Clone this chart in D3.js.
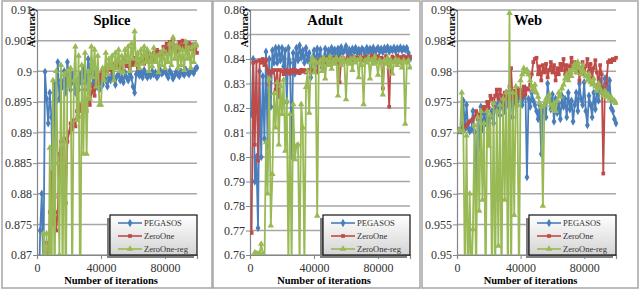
<!DOCTYPE html>
<html>
<head>
<meta charset="utf-8">
<script src="https://cdn.jsdelivr.net/npm/d3@7/dist/d3.min.js"></script>
<style>
body { margin: 0; background: #fff; }
svg { display: block; }
text { font-family: "Liberation Serif", "Times New Roman", serif; }
</style>
</head>
<body>
<svg id="chart" width="640" height="290"></svg>
<script>
// データ
var seriesNames = ["PEGASOS", "ZeroOne", "ZeroOne-reg"];
var panelTitles = ["Splice", "Adult", "Web"];
var xTicks = [0, 40000, 80000];
var iterStep = 1000; // 1点ごとの反復回数

var spliceTicks = [0.87, 0.875, 0.88, 0.885, 0.89, 0.895, 0.9, 0.905, 0.91];
var adultTicks = [0.76, 0.77, 0.78, 0.79, 0.8, 0.81, 0.82, 0.83, 0.84, 0.85, 0.86];
var webTicks = [0.95, 0.955, 0.96, 0.965, 0.97, 0.975, 0.98, 0.985, 0.99];

var splicePegasos = [0.862,0.874,0.880,0.866,0.8999,0.8955,0.8915,0.8965,0.8925,0.8785,
  0.898,0.895,0.9015,0.8955,0.8985,0.8975,0.900,0.8965,0.9015,0.8985,
  0.897,0.8995,0.898,0.8965,0.8985,0.897,0.8995,0.898,0.9005,0.897,
  0.8985,0.902,0.8995,0.9012,0.898,0.8997,0.8975,0.8985,0.897,0.8992,
  0.8978,0.899,0.8985,0.8975,0.899,0.8985,0.8995,0.8988,0.8978,0.8992,
  0.8995,0.8985,0.899,0.8982,0.8998,0.899,0.8985,0.8996,0.899,0.8975,
  0.8965,0.8995,0.9,0.8993,0.8998,0.899,0.9002,0.8995,0.899,0.8997,
  0.8992,0.9,0.8995,0.8998,0.899,0.8994,0.9002,0.8996,0.8999,0.9002,
  0.8995,0.899,0.9001,0.8996,0.8988,0.8993,0.8999,0.8995,0.8992,0.9,
  0.8997,0.8994,0.9003,0.8998,0.8995,0.9002,0.9,0.8997,0.9004,0.9006];
var spliceZeroOne = [0.84,0.84,0.84,0.84,0.86,0.872,0.866,0.877,0.8835,0.875,
  0.8795,0.874,0.877,0.8865,0.8885,0.8855,0.889,0.8785,0.8885,0.89,
  0.8915,0.8905,0.892,0.891,0.8935,0.8925,0.8945,0.8935,0.895,0.894,
  0.8935,0.8955,0.8945,0.8965,0.8975,0.896,0.8985,0.8975,0.8995,0.8985,
  0.9,0.8992,0.9005,0.8998,0.901,0.9003,0.9,0.9012,0.9005,0.9018,
  0.9008,0.9015,0.9002,0.9012,0.902,0.9008,0.9015,0.9005,0.9018,0.901,
  0.9022,0.9012,0.9005,0.902,0.9015,0.9025,0.9012,0.902,0.903,0.9015,
  0.9025,0.9018,0.903,0.902,0.9035,0.9025,0.9032,0.9022,0.904,0.903,
  0.9045,0.9028,0.9048,0.9035,0.9053,0.9038,0.9042,0.9032,0.9048,0.9035,
  0.905,0.9038,0.9045,0.9032,0.9046,0.9036,0.9044,0.9033,0.9038,0.903];
var spliceZeroOneReg = [0.85,0.85,0.85,0.8735,0.866,0.8735,0.855,0.8875,0.86,0.8985,
  0.862,0.9,0.885,0.87,0.901,0.865,0.8995,0.86,0.9,0.8975,
  0.9005,0.866,0.8985,0.904,0.892,0.9025,0.86,0.901,0.8865,0.903,
  0.8865,0.9,0.8955,0.904,0.899,0.9035,0.8975,0.9025,0.8945,0.8945,
  0.9005,0.8985,0.903,0.8995,0.902,0.9005,0.9025,0.8985,0.903,0.9005,
  0.9035,0.9,0.9025,0.8998,0.9035,0.9015,0.904,0.9,0.9045,0.902,
  0.9065,0.901,0.903,0.9005,0.9035,0.9012,0.904,0.9015,0.9035,0.9,
  0.9028,0.9008,0.9038,0.9015,0.9025,0.8998,0.903,0.901,0.9035,0.9005,
  0.9028,0.9015,0.9045,0.901,0.9055,0.902,0.9042,0.9005,0.9038,0.901,
  0.9035,0.9002,0.9048,0.902,0.9038,0.9005,0.904,0.9015,0.9045,0.9042];

var adultPegasos = [0.8175,0.84,0.79,0.8,0.771,0.835,0.80,0.833,0.8075,0.843,
  0.8045,0.84,0.8205,0.8435,0.8385,0.8445,0.8385,0.8445,0.8395,0.8445,
  0.837,0.8435,0.8225,0.8445,0.8385,0.8005,0.8425,0.834,0.8445,0.8395,
  0.8455,0.8405,0.8435,0.8385,0.8445,0.8395,0.8425,0.8325,0.8405,0.8435,
  0.8375,0.8442,0.8395,0.8438,0.8365,0.8405,0.8442,0.8385,0.8435,0.842,
  0.8445,0.8425,0.8438,0.8415,0.8442,0.842,0.8448,0.8425,0.8435,0.8452,
  0.8425,0.8438,0.8418,0.8442,0.843,0.8445,0.8425,0.8438,0.842,0.8442,
  0.8435,0.8415,0.8445,0.8428,0.8442,0.8432,0.8446,0.8425,0.8438,0.8445,
  0.843,0.8442,0.8428,0.8445,0.8435,0.8448,0.843,0.8442,0.8435,0.8446,
  0.8432,0.8444,0.8438,0.8447,0.8435,0.8444,0.8438,0.8445,0.8425,0.840];
var adultZeroOne = [0.769,0.8385,0.805,0.839,0.7985,0.8395,0.8385,0.84,0.8375,0.8395,
  0.8355,0.8295,0.835,0.8345,0.8355,0.8275,0.8355,0.8245,0.8355,0.835,
  0.8338,0.8355,0.8345,0.8352,0.834,0.8355,0.8348,0.8356,0.8345,0.8352,
  0.8342,0.8356,0.8348,0.8355,0.8345,0.8352,0.8356,0.8345,0.8355,0.8348,
  0.8352,0.8345,0.8395,0.8385,0.84,0.8365,0.839,0.8405,0.8385,0.84,
  0.839,0.8405,0.8395,0.8385,0.8405,0.8305,0.8398,0.8405,0.8388,0.8398,
  0.8408,0.839,0.8402,0.8395,0.8408,0.8392,0.8405,0.8398,0.8412,0.8395,
  0.8405,0.839,0.841,0.8398,0.8405,0.8415,0.8395,0.8408,0.84,0.8412,
  0.8398,0.8405,0.828,0.8402,0.8412,0.8395,0.8205,0.8398,0.841,0.8395,
  0.8405,0.8415,0.8398,0.8408,0.84,0.8412,0.8395,0.8408,0.8402,0.841];
var adultZeroOneReg = [0.755,0.755,0.761,0.7605,0.7605,0.7605,0.7645,0.7605,0.755,0.806,
  0.785,0.832,0.772,0.793,0.826,0.812,0.8305,0.805,0.829,0.8175,
  0.8315,0.8025,0.823,0.755,0.8175,0.755,0.8215,0.799,0.8045,0.805,
  0.755,0.8215,0.812,0.755,0.8285,0.835,0.818,0.8385,0.8405,0.8345,
  0.839,0.776,0.8385,0.8395,0.835,0.8405,0.832,0.8395,0.8375,0.841,
  0.836,0.8395,0.838,0.8405,0.825,0.8395,0.8375,0.8405,0.8385,0.8235,
  0.8395,0.838,0.84,0.8355,0.8405,0.8385,0.8395,0.8325,0.8405,0.8375,
  0.8215,0.8395,0.8385,0.8405,0.832,0.8395,0.838,0.841,0.8385,0.8335,
  0.8395,0.8385,0.8255,0.8395,0.838,0.8405,0.8365,0.8395,0.834,0.8385,
  0.84,0.8375,0.8395,0.8385,0.8365,0.8395,0.8135,0.8385,0.8395,0.8365];

var webPegasos = [0.9703,0.9703,0.9703,0.9752,0.9705,0.9745,0.9708,0.9702,0.9705,0.9735,
  0.9701,0.9608,0.9725,0.9675,0.9742,0.9705,0.973,0.9715,0.9735,0.9705,
  0.9725,0.9735,0.9715,0.9745,0.9735,0.9748,0.9728,0.9752,0.974,0.9735,
  0.9765,0.9745,0.9755,0.9765,0.9725,0.9755,0.9765,0.9745,0.9758,0.9768,
  0.9745,0.9758,0.9772,0.9627,0.9755,0.9742,0.9765,0.9752,0.9745,0.9735,
  0.9722,0.9745,0.9665,0.9735,0.9745,0.9725,0.978,0.9755,0.9738,0.9762,
  0.9718,0.9755,0.9732,0.9748,0.9722,0.976,0.9742,0.9755,0.9725,0.9765,
  0.9738,0.9752,0.9718,0.9745,0.9765,0.9735,0.978,0.9755,0.9745,0.9782,
  0.9735,0.9712,0.976,0.9745,0.9725,0.9765,0.9738,0.9775,0.9752,0.9785,
  0.9765,0.9772,0.9788,0.979,0.9762,0.9785,0.974,0.9735,0.9722,0.9715];
var webZeroOne = [0.9705,0.9705,0.9705,0.9705,0.971,0.9712,0.9715,0.9718,0.972,0.9722,
  0.9725,0.9735,0.9722,0.973,0.9735,0.9738,0.9742,0.9735,0.975,0.974,
  0.976,0.9755,0.9745,0.976,0.977,0.9755,0.977,0.976,0.9745,0.9765,
  0.9755,0.9765,0.9775,0.9805,0.9755,0.9768,0.9748,0.9772,0.976,0.977,
  0.9758,0.9775,0.9762,0.9772,0.977,0.9778,0.9795,0.9815,0.982,0.9822,
  0.9795,0.9808,0.9785,0.981,0.9798,0.9812,0.979,0.9802,0.9815,0.9798,
  0.981,0.9785,0.9805,0.9795,0.9812,0.9802,0.982,0.9795,0.981,0.979,
  0.9808,0.9822,0.9805,0.9815,0.9798,0.9812,0.9785,0.9805,0.9815,0.9795,
  0.9808,0.982,0.98,0.9812,0.979,0.9805,0.9818,0.9798,0.9778,0.981,
  0.9795,0.9633,0.9772,0.978,0.9815,0.9818,0.9815,0.982,0.9818,0.9822];
var webZeroOneReg = [0.9703,0.9703,0.9765,0.9703,0.945,0.9695,0.945,0.96,0.945,0.9542,
  0.9712,0.945,0.9725,0.9572,0.9735,0.959,0.9715,0.945,0.9735,0.9678,
  0.9728,0.945,0.9748,0.945,0.9735,0.9515,0.9745,0.945,0.9755,0.959,
  0.9765,0.945,0.9895,0.945,0.9765,0.9565,0.9775,0.9745,0.945,0.9785,
  0.9795,0.9805,0.9798,0.9802,0.9795,0.9785,0.9775,0.9768,0.9778,0.9765,
  0.9758,0.9748,0.9742,0.958,0.9745,0.9755,0.975,0.9762,0.9745,0.9738,
  0.9748,0.9735,0.9752,0.9765,0.9758,0.9772,0.9778,0.9788,0.9795,0.9785,
  0.98,0.9792,0.9805,0.9812,0.9798,0.9815,0.9805,0.9795,0.981,0.9798,
  0.9792,0.9785,0.9795,0.9782,0.9778,0.9788,0.9775,0.9768,0.978,0.9772,
  0.9765,0.976,0.9768,0.9758,0.9762,0.9755,0.9758,0.975,0.9752,0.9748];

// 見た目
var colors = ["#4a7ebb", "#be4b48", "#98b954"];
var symbols = [d3.symbolDiamond, d3.symbolSquare, d3.symbolTriangle];
var symbolSizes = [20, 14, 18];

var panels = [
  { title: panelTitles[0], ticks: spliceTicks, series: [splicePegasos, spliceZeroOne, spliceZeroOneReg],
    box: [2, 212], left: 37, right: 197, titleX: 112 },
  { title: panelTitles[1], ticks: adultTicks, series: [adultPegasos, adultZeroOne, adultZeroOneReg],
    box: [213, 420], left: 250, right: 410, titleX: 325 },
  { title: panelTitles[2], ticks: webTicks, series: [webPegasos, webZeroOne, webZeroOneReg],
    box: [422, 638], left: 457, right: 616, titleX: 528 }
];
var plotTop = 10, plotBottom = 255;

var svg = d3.select("#chart");
var defs = svg.append("defs");
var grad = defs.append("linearGradient").attr("id", "legbg")
  .attr("x1", 0).attr("y1", 0).attr("x2", 0).attr("y2", 1);
grad.append("stop").attr("offset", "0%").attr("stop-color", "#ffffff");
grad.append("stop").attr("offset", "100%").attr("stop-color", "#d4d4d4");

panels.forEach(function(p, pi) {
  var g = svg.append("g");
  // パネルの枠
  g.append("rect")
    .attr("x", p.box[0]).attr("y", 1)
    .attr("width", p.box[1] - p.box[0]).attr("height", 287)
    .attr("fill", "#fff").attr("stroke", "#a6a6a6").attr("stroke-width", 1.5);

  var xScale = d3.scaleLinear().domain([0, 100000]).range([p.left, p.right]);
  var yScale = d3.scaleLinear().domain(d3.extent(p.ticks)).range([plotBottom, plotTop]);

  // グリッド
  g.append("g").selectAll("line").data(p.ticks).join("line")
    .attr("x1", p.left).attr("x2", p.right)
    .attr("y1", function(d) { return yScale(d); })
    .attr("y2", function(d) { return yScale(d); })
    .attr("stroke", "#a6a6a6").attr("stroke-width", 1.5);

  // 軸
  var yAxis = d3.axisLeft(yScale).tickValues(p.ticks).tickSize(4).tickPadding(1)
    .tickFormat(function(d) { return String(d); });
  var yg = g.append("g").attr("transform", "translate(" + p.left + ",0)").call(yAxis);
  var xAxis = d3.axisBottom(xScale).tickValues(xTicks).tickSize(4).tickPadding(4)
    .tickFormat(function(d) { return String(d); });
  var xg = g.append("g").attr("transform", "translate(0," + plotBottom + ")").call(xAxis);
  [yg, xg].forEach(function(a) {
    a.attr("font-family", null);
    a.select(".domain").attr("stroke", "#868686").attr("stroke-width", 1.2);
    a.selectAll(".tick line").attr("stroke", "#868686");
    a.selectAll(".tick text").attr("fill", "#333").style("font-size", "12px")
      .style("font-family", "'Liberation Serif', serif");
  });

  // 線とマーカー
  var clipId = "clip" + pi;
  defs.append("clipPath").attr("id", clipId).append("rect")
    .attr("x", p.left).attr("y", plotTop - 2).attr("width", p.right - p.left + 2).attr("height", plotBottom - plotTop + 2);
  var plot = g.append("g").attr("clip-path", "url(#" + clipId + ")");
  var line = d3.line()
    .x(function(d, i) { return xScale((i + 1) * iterStep); })
    .y(function(d) { return yScale(d); });
  p.series.forEach(function(vals, si) {
    plot.append("path").datum(vals)
      .attr("d", line).attr("fill", "none")
      .attr("stroke", colors[si]).attr("stroke-width", 1.8).attr("stroke-linejoin", "round");
    plot.append("g").selectAll("path").data(vals).join("path")
      .attr("transform", function(d, i) { return "translate(" + xScale((i + 1) * iterStep) + "," + yScale(d) + ")"; })
      .attr("d", d3.symbol().type(symbols[si]).size(symbolSizes[si]))
      .attr("fill", colors[si]);
  });

  // タイトルとラベル
  g.append("text").attr("x", p.titleX).attr("y", 25).attr("text-anchor", "middle")
    .style("font-size", "14.5px").style("font-weight", "bold").text(p.title);
  g.append("text").attr("transform", "translate(" + (p.left - 2) + ",27) rotate(-90)")
    .attr("text-anchor", "middle").style("font-size", "10px").style("font-weight", "bold")
    .text("Accuracy");
  g.append("text").attr("x", (p.left + p.right) / 2 - 6).attr("y", 284).attr("text-anchor", "middle")
    .style("font-size", "10.5px").style("font-weight", "bold").text("Number of iterations");

  // 凡例
  var lx = p.right - 87, ly = 215;
  var leg = g.append("g");
  leg.append("rect").attr("x", lx - 3).attr("y", ly + 3).attr("width", 87).attr("height", 40).attr("fill", "#7f7f7f");
  leg.append("rect").attr("x", lx).attr("y", ly).attr("width", 87).attr("height", 40)
    .attr("fill", "url(#legbg)").attr("stroke", "#111").attr("stroke-width", 1.2);
  seriesNames.forEach(function(name, si) {
    var yy = ly + 8 + si * 13;
    leg.append("line").attr("x1", lx + 8).attr("x2", lx + 32).attr("y1", yy).attr("y2", yy)
      .attr("stroke", colors[si]).attr("stroke-width", 1.6);
    leg.append("path").attr("transform", "translate(" + (lx + 20) + "," + yy + ")")
      .attr("d", d3.symbol().type(symbols[si]).size(symbolSizes[si])).attr("fill", colors[si]);
    leg.append("text").attr("x", lx + 34).attr("y", yy + 3).style("font-size", "8.5px")
      .attr("fill", "#333").text(name);
  });
});
</script>
</body>
</html>
